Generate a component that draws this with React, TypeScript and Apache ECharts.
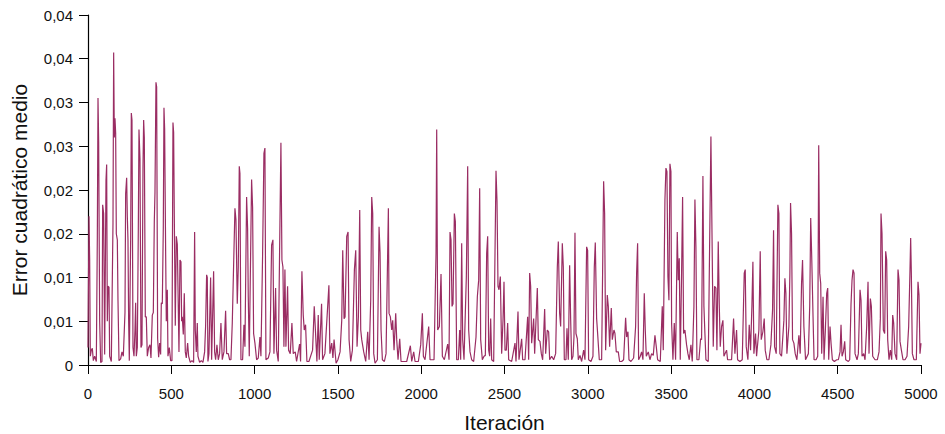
import { useEffect, useRef } from "react";
import * as echarts from "echarts";

// Mean squared error per training iteration, [iteration, mse]
const mse: [number, number][] = [
  [0, 0.002], [2, 0.0078], [6, 0.017], [10, 0.012], [14, 0.001], [20, 0.0017], [26, 0.0019], [32, 0.0005],
  [40, 0.001], [50, 0.0004], [56, 0.0146], [60, 0.0305], [64, 0.0255], [70, 0.005], [76, 0.0003], [84, 0.0004],
  [88, 0.0183], [94, 0.0173], [100, 0.0012], [108, 0.0211], [112, 0.0229], [116, 0.005], [120, 0.009], [126, 0.0089],
  [130, 0.001], [140, 0.0004], [150, 0.0162], [154, 0.0357], [158, 0.026], [162, 0.0282], [166, 0.0265], [170, 0.015],
  [176, 0.0143], [180, 0.0074], [186, 0.0005], [196, 0.0007], [204, 0.0015], [212, 0.001], [222, 0.006], [226, 0.0196],
  [232, 0.0214], [236, 0.017], [240, 0.0143], [244, 0.005], [248, 0.0005], [256, 0.0143], [260, 0.0288], [264, 0.028],
  [270, 0.002], [276, 0.001], [282, 0.004], [286, 0.0071], [290, 0.001], [296, 0.002], [302, 0.0155], [306, 0.0269],
  [312, 0.0235], [318, 0.002], [324, 0.0023], [330, 0.0225], [334, 0.028], [338, 0.026], [344, 0.0055], [350, 0.0055],
  [356, 0.001], [364, 0.002], [372, 0.0023], [378, 0.0008], [386, 0.0057], [392, 0.006], [398, 0.0164], [402, 0.0197],
  [408, 0.0323], [412, 0.0318], [418, 0.003], [424, 0.0009], [430, 0.0025], [436, 0.0012], [440, 0.0071], [446, 0.007],
  [452, 0.0157], [456, 0.0294], [460, 0.027], [466, 0.013], [470, 0.005], [476, 0.0086], [480, 0.001], [488, 0.002],
  [496, 0.0005], [504, 0.0005], [510, 0.0277], [514, 0.0266], [518, 0.017], [524, 0.0045], [530, 0.0147], [536, 0.0138],
  [540, 0.009], [546, 0.0015], [552, 0.012], [558, 0.0118], [562, 0.005], [566, 0.0055], [572, 0.0035], [578, 0.0082],
  [584, 0.0015], [590, 0.0008], [598, 0.0025], [604, 0.001], [614, 0.0003], [624, 0.0005], [634, 0.0003], [640, 0.0152],
  [644, 0.004], [650, 0.0015], [656, 0.0048], [660, 0.001], [670, 0.0003], [680, 0.0005], [690, 0.0003], [700, 0.0015],
  [706, 0.0045], [712, 0.0103], [716, 0.01], [720, 0.0004], [726, 0.0013], [736, 0.01], [742, 0.0006], [754, 0.0107],
  [760, 0.0015], [766, 0.0006], [774, 0.0023], [782, 0.0006], [790, 0.0013], [798, 0.0048], [806, 0.0006], [816, 0.0015],
  [826, 0.0062], [832, 0.0013], [842, 0.0013], [850, 0.0006], [858, 0.0006], [866, 0.0048], [882, 0.0179], [888, 0.0166],
  [896, 0.007], [902, 0.0112], [908, 0.0227], [912, 0.0219], [918, 0.0006], [928, 0.0006], [936, 0.0046], [942, 0.0021],
  [952, 0.0192], [958, 0.0156], [962, 0.0078], [968, 0.001], [982, 0.0212], [988, 0.018], [994, 0.0036], [1002, 0.0025],
  [1012, 0.0006], [1022, 0.0008], [1032, 0.0032], [1038, 0.001], [1048, 0.0126], [1056, 0.0242], [1062, 0.0248], [1068, 0.0006],
  [1082, 0.0008], [1092, 0.0015], [1102, 0.0137], [1110, 0.0143], [1116, 0.0013], [1126, 0.0088], [1132, 0.0017], [1142, 0.0004],
  [1158, 0.0254], [1164, 0.012], [1170, 0.0112], [1176, 0.0021], [1182, 0.0109], [1188, 0.0021], [1198, 0.009], [1204, 0.0017],
  [1214, 0.0013], [1224, 0.0048], [1232, 0.0013], [1244, 0.0015], [1252, 0.0004], [1270, 0.0024], [1276, 0.0004], [1284, 0.0107],
  [1292, 0.0057], [1298, 0.004], [1306, 0.0046], [1314, 0.0004], [1326, 0.0004], [1348, 0.0017], [1358, 0.0067], [1364, 0.0044],
  [1374, 0.0004], [1382, 0.0057], [1388, 0.0006], [1402, 0.007], [1408, 0.0006], [1422, 0.0013], [1446, 0.0091], [1452, 0.0013],
  [1463, 0.0025], [1470, 0.0008], [1477, 0.0029], [1489, 0.0002], [1500, 0.0006], [1513, 0.0015], [1523, 0.0051], [1529, 0.0131],
  [1537, 0.0053], [1543, 0.0055], [1553, 0.0147], [1561, 0.0152], [1567, 0.0029], [1577, 0.0004], [1587, 0.0017], [1599, 0.0109],
  [1607, 0.0131], [1615, 0.0021], [1623, 0.0055], [1631, 0.0177], [1637, 0.004], [1643, 0.0029], [1655, 0.0015], [1667, 0.0004],
  [1679, 0.0038], [1687, 0.0006], [1697, 0.0074], [1703, 0.0192], [1709, 0.0173], [1715, 0.0013], [1723, 0.0002], [1737, 0.0006],
  [1747, 0.0158], [1753, 0.0128], [1759, 0.004], [1767, 0.0006], [1779, 0.0004], [1789, 0.0013], [1803, 0.0179], [1807, 0.0059],
  [1815, 0.0055], [1823, 0.004], [1829, 0.0051], [1837, 0.0017], [1847, 0.0059], [1853, 0.0029], [1861, 0.0006], [1871, 0.003],
  [1879, 0.0004], [1903, 0.0004], [1913, 0.0004], [1935, 0.0022], [1943, 0.0004], [1955, 0.0015], [1963, 0.0004], [1983, 0.0004],
  [1997, 0.0023], [2007, 0.0059], [2013, 0.001], [2023, 0.0006], [2045, 0.0044], [2053, 0.0006], [2063, 0.0006], [2077, 0.0006],
  [2089, 0.0128], [2093, 0.0269], [2099, 0.004], [2109, 0.0044], [2119, 0.0104], [2127, 0.001], [2139, 0.0006], [2159, 0.0024],
  [2167, 0.0006], [2173, 0.0152], [2179, 0.0143], [2185, 0.0067], [2191, 0.007], [2199, 0.0173], [2205, 0.0164], [2213, 0.0006],
  [2223, 0.0006], [2231, 0.004], [2237, 0.0006], [2243, 0.0139], [2249, 0.0029], [2257, 0.0006], [2271, 0.0101], [2279, 0.0227],
  [2285, 0.004], [2293, 0.0015], [2303, 0.0006], [2315, 0.0004], [2329, 0.0032], [2337, 0.0078], [2345, 0.0097], [2351, 0.0202],
  [2357, 0.0029], [2367, 0.0006], [2377, 0.001], [2385, 0.0011], [2393, 0.0128], [2399, 0.0147], [2405, 0.0017], [2411, 0.001],
  [2417, 0.0053], [2423, 0.0006], [2435, 0.0004], [2449, 0.0222], [2455, 0.0187], [2461, 0.009], [2467, 0.0086], [2475, 0.0101],
  [2483, 0.0013], [2491, 0.0051], [2497, 0.0095], [2503, 0.0017], [2511, 0.0017], [2519, 0.0048], [2525, 0.0006], [2543, 0.0004],
  [2563, 0.0025], [2569, 0.0004], [2581, 0.0061], [2587, 0.0006], [2603, 0.003], [2609, 0.0006], [2623, 0.0006], [2639, 0.0055],
  [2645, 0.0006], [2651, 0.0105], [2657, 0.009], [2663, 0.0025], [2675, 0.0053], [2681, 0.0013], [2697, 0.0088], [2703, 0.0029],
  [2713, 0.0027], [2721, 0.0013], [2729, 0.0006], [2741, 0.0064], [2747, 0.0013], [2757, 0.004], [2765, 0.0038], [2771, 0.0006],
  [2783, 0.001], [2795, 0.0006], [2807, 0.0013], [2817, 0.0112], [2823, 0.0141], [2831, 0.0059], [2837, 0.0044], [2847, 0.0139],
  [2853, 0.0112], [2859, 0.0006], [2869, 0.0006], [2875, 0.0042], [2883, 0.0006], [2891, 0.0114], [2897, 0.0053], [2903, 0.0006],
  [2911, 0.001], [2917, 0.0032], [2923, 0.0151], [2929, 0.0036], [2937, 0.003], [2943, 0.0006], [2953, 0.0011], [2963, 0.0004],
  [2975, 0.0017], [2983, 0.0006], [2993, 0.0135], [2999, 0.0131], [3005, 0.0006], [3019, 0.0004], [3031, 0.001], [3039, 0.0112],
  [3045, 0.014], [3053, 0.0053], [3059, 0.0036], [3069, 0.0006], [3083, 0.0006], [3095, 0.021], [3101, 0.0173], [3107, 0.0017],
  [3117, 0.008], [3123, 0.0067], [3131, 0.0021], [3141, 0.0065], [3147, 0.0029], [3157, 0.004], [3163, 0.0036], [3171, 0.0015],
  [3183, 0.0015], [3191, 0.0004], [3203, 0.0004], [3215, 0.0006], [3227, 0.0054], [3233, 0.0032], [3241, 0.0038], [3247, 0.0006],
  [3259, 0.0004], [3275, 0.0008], [3287, 0.0044], [3293, 0.0105], [3299, 0.0139], [3305, 0.0006], [3315, 0.001], [3323, 0.0015],
  [3331, 0.0006], [3339, 0.0082], [3345, 0.004], [3351, 0.001], [3363, 0.0015], [3373, 0.0006], [3383, 0.0013], [3393, 0.0011],
  [3403, 0.0034], [3411, 0.0021], [3419, 0.0006], [3435, 0.0004], [3447, 0.0067], [3453, 0.0017], [3463, 0.0189], [3469, 0.0225],
  [3475, 0.0221], [3481, 0.0101], [3487, 0.0074], [3493, 0.023], [3499, 0.0221], [3503, 0.0048], [3511, 0.0006], [3519, 0.0048],
  [3527, 0.0006], [3537, 0.0152], [3543, 0.0097], [3549, 0.0122], [3555, 0.0006], [3563, 0.0105], [3569, 0.0192], [3575, 0.0036],
  [3583, 0.004], [3593, 0.0023], [3601, 0.0013], [3609, 0.0006], [3619, 0.0023], [3627, 0.0004], [3637, 0.0067], [3643, 0.0189],
  [3649, 0.0135], [3655, 0.0006], [3667, 0.0006], [3677, 0.003], [3683, 0.0029], [3691, 0.0216], [3697, 0.0067], [3703, 0.0036],
  [3709, 0.0006], [3723, 0.0004], [3739, 0.0261], [3747, 0.0124], [3753, 0.0021], [3761, 0.009], [3769, 0.0088], [3775, 0.0017],
  [3783, 0.0141], [3789, 0.007], [3795, 0.0021], [3803, 0.0044], [3811, 0.0051], [3817, 0.001], [3833, 0.0017], [3839, 0.0006],
  [3853, 0.0006], [3863, 0.0006], [3875, 0.0053], [3883, 0.0013], [3893, 0.004], [3899, 0.0006], [3913, 0.0004], [3927, 0.0006],
  [3939, 0.0105], [3945, 0.0109], [3951, 0.0021], [3961, 0.0006], [3969, 0.0046], [3977, 0.0017], [3985, 0.0067], [3991, 0.0118],
  [3997, 0.0013], [4007, 0.0036], [4013, 0.001], [4027, 0.004], [4035, 0.013], [4041, 0.0029], [4051, 0.0038], [4059, 0.0053],
  [4065, 0.0017], [4075, 0.0006], [4087, 0.0006], [4099, 0.0023], [4109, 0.0063], [4115, 0.0154], [4121, 0.0021], [4131, 0.0013],
  [4141, 0.0183], [4147, 0.0173], [4153, 0.0013], [4163, 0.001], [4177, 0.0051], [4183, 0.0099], [4189, 0.0082], [4195, 0.0013],
  [4207, 0.0044], [4213, 0.0105], [4217, 0.0185], [4223, 0.015], [4229, 0.0029], [4237, 0.0025], [4245, 0.0013], [4255, 0.0006],
  [4267, 0.0034], [4275, 0.0013], [4283, 0.0093], [4289, 0.012], [4297, 0.0044], [4307, 0.0006], [4324, 0.0013], [4332, 0.0067],
  [4338, 0.0168], [4344, 0.0124], [4352, 0.0055], [4358, 0.0006], [4370, 0.0006], [4380, 0.001], [4386, 0.0251], [4392, 0.0105],
  [4398, 0.0093], [4404, 0.0013], [4412, 0.0078], [4418, 0.0006], [4426, 0.004], [4434, 0.0082], [4440, 0.0088], [4446, 0.0006],
  [4454, 0.0044], [4460, 0.0025], [4468, 0.0006], [4480, 0.0004], [4494, 0.0006], [4504, 0.0006], [4514, 0.0015], [4520, 0.0046],
  [4526, 0.001], [4534, 0.0015], [4542, 0.0027], [4548, 0.0006], [4564, 0.0004], [4572, 0.0006], [4580, 0.007], [4586, 0.0097],
  [4592, 0.0109], [4598, 0.0105], [4604, 0.0013], [4616, 0.0006], [4624, 0.0013], [4634, 0.0086], [4640, 0.0074], [4646, 0.001],
  [4656, 0.0013], [4664, 0.0006], [4674, 0.0044], [4682, 0.0095], [4688, 0.0013], [4696, 0.0076], [4702, 0.0067], [4710, 0.001],
  [4724, 0.0006], [4738, 0.0006], [4748, 0.0015], [4756, 0.0053], [4760, 0.0173], [4766, 0.015], [4774, 0.004], [4782, 0.0036],
  [4788, 0.013], [4794, 0.012], [4800, 0.0029], [4808, 0.0006], [4816, 0.0017], [4824, 0.0006], [4830, 0.0057], [4836, 0.0048],
  [4844, 0.0013], [4854, 0.0006], [4862, 0.0109], [4868, 0.0097], [4874, 0.0027], [4884, 0.0015], [4892, 0.0006], [4904, 0.0006],
  [4916, 0.001], [4926, 0.0044], [4934, 0.0109], [4938, 0.0145], [4942, 0.0105], [4948, 0.0013], [4958, 0.0006], [4972, 0.0006],
  [4982, 0.0095], [4988, 0.008], [4994, 0.0013], [5000, 0.0025],
];

const X_MAX = 5000;
const X_STEP = 500;
const Y_MAX = 0.04;
const Y_STEP = 0.005;

const FONT = "'Liberation Sans', Arial, sans-serif";
const LINE_COLOR = "#9a2d63";

// Labels rounded to two decimals with a decimal comma
const formatError = (v: number) => {
  if (v === 0) return "0";
  const r = Math.round(v * 100 + 1e-9) / 100;
  return r.toFixed(2).replace(".", ",");
};

// Plain integers, no thousands separator
const formatIteration = (v: number) => String(Math.round(v));

export default function App() {
  const ref = useRef<HTMLDivElement>(null);

  useEffect(() => {
    const chart = echarts.init(ref.current!, null, { renderer: "svg" });
    chart.setOption({
      animation: false,
      backgroundColor: "#ffffff",
      grid: {
        left: 88,
        right: 24,
        top: 15,
        bottom: 69,
        containLabel: false,
        outerBoundsMode: "none",
      },
      xAxis: {
        type: "value",
        min: 0,
        max: X_MAX,
        interval: X_STEP,
        name: "Iteración",
        nameLocation: "middle",
        nameGap: 47,
        nameTextStyle: { fontSize: 21, color: "#111", fontFamily: FONT },
        axisLine: { onZero: false, lineStyle: { color: "#000", width: 1.2 } },
        axisTick: { show: true, length: 9, lineStyle: { color: "#000" } },
        axisLabel: { fontSize: 15, color: "#111", margin: 21, fontFamily: FONT, formatter: formatIteration },
        splitLine: { show: false },
      },
      yAxis: {
        type: "value",
        min: 0,
        max: Y_MAX,
        interval: Y_STEP,
        name: "Error cuadrático medio",
        nameLocation: "middle",
        nameGap: 58,
        nameTextStyle: { fontSize: 21, color: "#111", fontFamily: FONT },
        axisLine: { show: true, lineStyle: { color: "#000", width: 1.2 } },
        axisTick: { show: true, length: 9, lineStyle: { color: "#000" } },
        axisLabel: { fontSize: 15, color: "#111", margin: 15, fontFamily: FONT, formatter: formatError },
        splitLine: { show: false },
      },
      series: [
        {
          type: "line",
          data: mse,
          showSymbol: false,
          silent: true,
          lineStyle: { color: LINE_COLOR, width: 1.2 },
        },
      ],
    });
    return () => chart.dispose();
  }, []);

  return (
    <div
      ref={ref}
      style={{ position: "fixed", left: 0, top: 0, width: 945, height: 434, background: "#fff" }}
    />
  );
}
